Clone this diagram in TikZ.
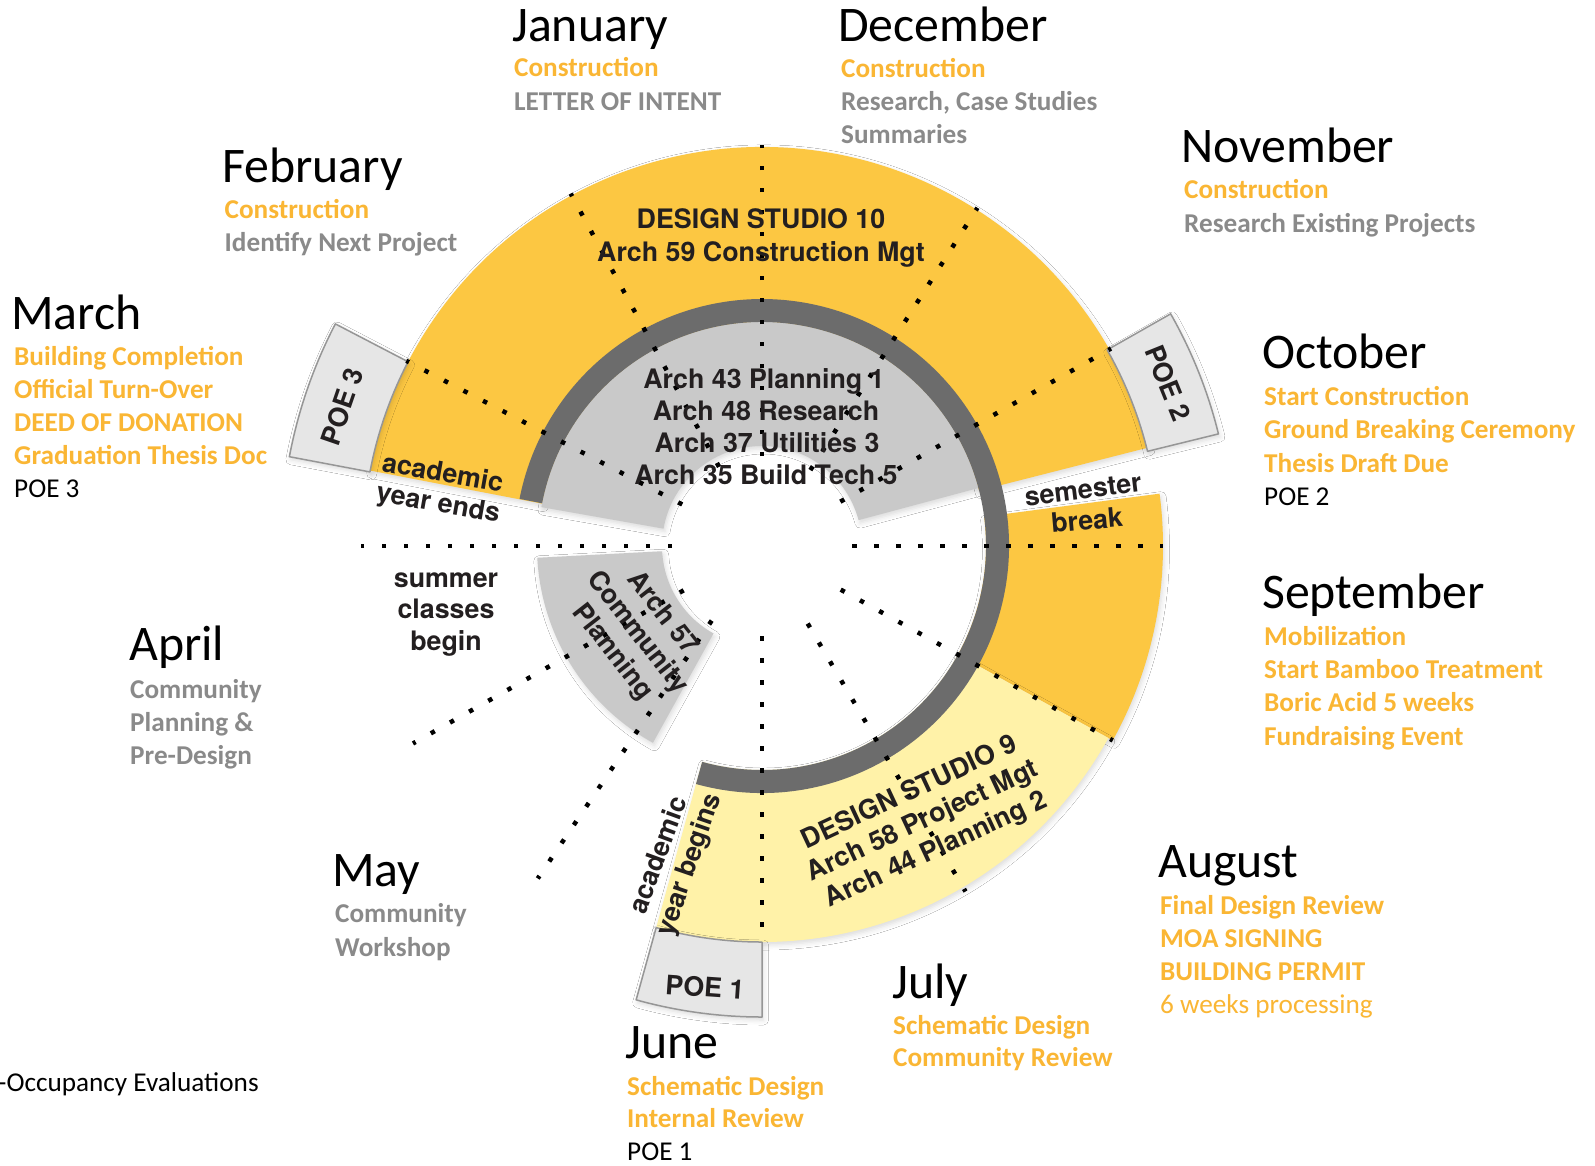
\documentclass[tikz,border=0pt]{standalone}
\usepackage{fontspec}
\setmainfont{Carlito}
\newfontfamily\hel{TeX Gyre Heros}
\usetikzlibrary{shadows.blur}
\definecolor{yelA}{RGB}{252,199,66}
\definecolor{yelL}{RGB}{255,242,168}
\definecolor{ringC}{RGB}{108,108,108}
\definecolor{inG}{RGB}{201,201,201}
\definecolor{poeF}{RGB}{230,230,230}
\definecolor{poeD}{RGB}{150,150,150}
\definecolor{orT}{RGB}{250,182,52}
\definecolor{grT}{RGB}{138,138,138}
\definecolor{dkT}{RGB}{35,31,32}
\newcommand\sect[4]{(#1:#3) -- (#1:#4) arc[start angle=#1, end angle=#2, radius=#4] -- (#2:#3) arc[start angle=#2, end angle=#1, radius=#3] -- cycle}
\tikzset{
  mname/.style={anchor=base west, inner sep=0pt, font=\fontsize{49.8}{50}\selectfont, text=black},
  oline/.style={anchor=base west, inner sep=0pt, font=\fontsize{27.2}{27.2}\selectfont\bfseries, text=orT},
  gline/.style={anchor=base west, inner sep=0pt, font=\fontsize{27.2}{27.2}\selectfont\bfseries, text=grT},
  bline/.style={anchor=base west, inner sep=0pt, font=\fontsize{27.2}{27.2}\selectfont, text=black},
  oreg/.style={anchor=base west, inner sep=0pt, font=\fontsize{27.2}{27.2}\selectfont, text=orT},
  lab/.style={inner sep=0pt, font=\hel\bfseries\fontsize{26.8}{31.5}\selectfont, text=dkT, align=center},
  dots/.style={line width=4.5pt, dash pattern=on 4.5pt off 17.5pt},
  poebox/.style={fill=poeF, draw=poeD, line width=1.5pt, line join=round},
  shad/.style={blur shadow={shadow xshift=1.5pt, shadow yshift=-3pt, shadow blur radius=5pt, shadow opacity=14}},
}
\begin{document}
\begin{tikzpicture}[x=1pt, y=-1pt]
\useasboundingbox (0,0) rectangle (1595,1165);
\fill[white] (0,0) rectangle (1595,1165);

\begin{scope}[shift={(762,546)}, y=1pt]
  % coloured sectors
  \fill[yelA, shad] \sect{14.3}{169.1}{224}{399};
  \fill[yelA, shad] \sect{-29}{7.5}{224}{401};
  \fill[yelL, shad] \sect{-105.5}{-29}{224}{396};
  % grey inner sectors
  \fill[inG, shad] \sect{15}{170}{100}{224};
  \fill[inG, shad] \sect{183}{241}{100}{225};
  % POE boxes
  \filldraw[poebox, shad] \sect{152.5}{169.3}{399}{481};
  \filldraw[poebox, shad] \sect{13.8}{29.6}{397}{470};
  \filldraw[poebox, shad] \sect{254.5}{270}{396}{471};
  % dark ring
  \fill[ringC] (-105.5:247) arc[start angle=-105.5, end angle=169, radius=247] -- (169:224) arc[start angle=169, end angle=-105.5, radius=224] -- cycle;
  % dotted month dividers
  \foreach \a in {0,29.5,57.5,90,118.5,152.5,180,209.5,236,300.5,331}
    \draw[dots] (\a:90) -- (\a:401);
  \draw[dots] (270:90) -- (270:385);
\end{scope}

% labels in the wheel
\node[lab, anchor=base] (ds10) at (761,228) {DESIGN STUDIO 10};
\node[lab, anchor=base] (a59) at (761,261) {Arch 59 Construction Mgt};
\node[lab, anchor=base] (a43) at (764,388) {Arch 43 Planning 1};
\node[lab, anchor=base] (a48) at (766,420) {Arch 48 Research};
\node[lab, anchor=base] (a37) at (767,452) {Arch 37 Utilities 3};
\node[lab, anchor=base] (a35) at (766,484) {Arch 35 Build Tech 5};
\node[lab, anchor=base] (sum1) at (446,587) {summer};
\node[lab, anchor=base] (sum2) at (446,618) {classes};
\node[lab, anchor=base] (sum3) at (446,650) {begin};
\node[lab, rotate=-10] (aye1) at (443,472) {academic};
\node[lab, rotate=-10] (aye2) at (438,505) {year ends};
\node[lab, rotate=7] (sb1) at (1083,490) {semester};
\node[lab, rotate=5] (sb2) at (1087,520) {break};
\node[lab, rotate=71] (poe3) at (342,407) {POE 3};
\node[lab, rotate=-68] (poe2) at (1168,383) {POE 2};
\node[lab, rotate=-4] (poe1) at (705,987) {POE 1};
\node[lab, rotate=-52] (a57) at (637,633) {Arch 57\\Community\\Planning};
\node[lab, rotate=70] (ayb1) at (657,855) {academic};
\node[lab, rotate=71] (ayb2) at (690,865) {year begins};
\node[lab, rotate=25] (ds9) at (923,822) {DESIGN STUDIO 9\\Arch 58 Project Mgt\\Arch 44 Planning 2};

% months
\node[mname] (jan) at (512,41) {January};
\node[oline] (jan1) at (514,76.5) {Construction};
\node[gline] (jan2) at (514,110) {LETTER OF INTENT};

\node[mname] (dec) at (838,41) {December};
\node[oline] (dec1) at (841,77.5) {Construction};
\node[gline] (dec2) at (841,110.7) {Research, Case Studies};
\node[gline] (dec3) at (841,143.9) {Summaries};

\node[mname] (nov) at (1181,162) {November};
\node[oline] (nov1) at (1184,198.5) {Construction};
\node[gline] (nov2) at (1184,232) {Research Existing Projects};

\node[mname] (oct) at (1262,368) {October};
\node[oline] (oct1) at (1264,405.6) {Start Construction};
\node[oline] (oct2) at (1264,438.8) {Ground Breaking Ceremony};
\node[oline] (oct3) at (1264,472) {Thesis Draft Due};
\node[bline] (oct4) at (1264,505) {POE 2};

\node[mname] (sep) at (1262,608) {September};
\node[oline] (sep1) at (1264,645.4) {Mobilization};
\node[oline] (sep2) at (1264,678.6) {Start Bamboo Treatment};
\node[oline] (sep3) at (1264,711.7) {Boric Acid 5 weeks};
\node[oline] (sep4) at (1264,745) {Fundraising Event};

\node[mname] (aug) at (1158,877.5) {August};
\node[oline] (aug1) at (1160,914) {Final Design Review};
\node[oline] (aug2) at (1160,947) {MOA SIGNING};
\node[oline] (aug3) at (1160,980) {BUILDING PERMIT};
\node[oreg] (aug4) at (1160,1013) {6 weeks processing};

\node[mname] (jul) at (892,998) {July};
\node[oline] (jul1) at (893,1034) {Schematic Design};
\node[oline] (jul2) at (893,1066.7) {Community Review};

\node[mname] (jun) at (625,1058) {June};
\node[oline] (jun1) at (627,1095) {Schematic Design};
\node[oline] (jun2) at (627,1127) {Internal Review};
\node[bline] (jun3) at (627,1160) {POE 1};

\node[mname] (may) at (332,886.7) {May};
\node[gline] (may1) at (335,922.7) {Community};
\node[gline] (may2) at (335,956) {Workshop};

\node[mname] (apr) at (129,660.7) {April};
\node[gline] (apr1) at (130,698) {Community};
\node[gline] (apr2) at (130,731) {Planning \&};
\node[gline] (apr3) at (130,764) {Pre-Design};

\node[mname] (mar) at (11,329) {March};
\node[oline] (mar1) at (14,365) {Building Completion};
\node[oline] (mar2) at (14,398.5) {Official Turn-Over};
\node[oline] (mar3) at (14,431.6) {DEED OF DONATION};
\node[oline] (mar4) at (14,464.8) {Graduation Thesis Doc};
\node[bline] (mar5) at (14,497.5) {POE 3};

\node[mname] (feb) at (222,182.7) {February};
\node[oline] (feb1) at (224.5,218) {Construction};
\node[gline] (feb2) at (224.5,251.5) {Identify Next Project};

\node[bline] (poenote) at (-2,1091.7) {-Occupancy Evaluations};
\end{tikzpicture}
\end{document}
